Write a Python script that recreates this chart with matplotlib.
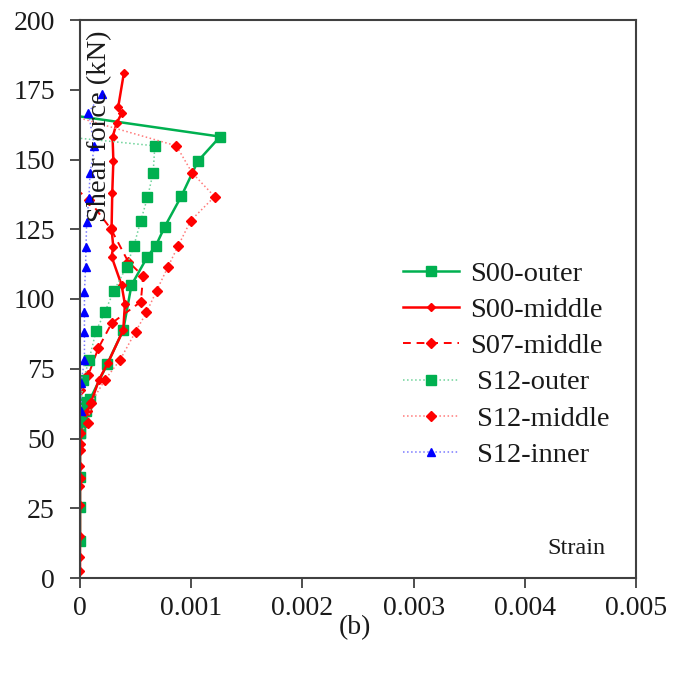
import matplotlib
matplotlib.use("Agg")
import matplotlib.pyplot as plt

plt.rcParams['font.family'] = ['Liberation Serif', 'DejaVu Serif']

# ---- data (strain, shear force kN) ----
s00_outer_x = [0, 0, 0, 0, 0.00002, 0.00005, 0.00009, 0.000245, 0.000389, 0.000463,
               0.000607, 0.000682, 0.000762, 0.000912, 0.00106, 0.00126, -0.00010]
s00_outer_y = [13.4, 25.6, 36.3, 52, 56, 60, 64, 76.7, 88.9, 105,
               115.2, 119.1, 125.9, 136.9, 149.4, 158.2, 166]

s00_middle_x = [0, 0, 0, 0, 0, 0, 0, 0.00002, 0.00007, 0.0001, 0.00017, 0.00025,
                0.000389, 0.000404, 0.000374, 0.000284, 0.000299, 0.000284, 0.00029,
                0.0003, 0.000293, 0.000329, 0.000374, 0.000344, 0.000395]
s00_middle_y = [2.5, 7.6, 15, 26, 33, 40, 46, 55, 60, 63, 71, 77,
                88.9, 98.1, 105, 115.2, 118.7, 125.3, 137.9,
                149.6, 158, 163, 166.5, 168.9, 181.1]

s07_middle_x = [0, 0, 0, 0.000075, 0.000164, 0.000284, 0.000547, 0.000568,
                0.000433, 0.00028, 0.00008, -0.00005]
s07_middle_y = [36, 46, 67.4, 72.8, 82.3, 91.3, 99, 108.2,
                113.4, 125, 135.5, 140]

s12_outer_x = [0, 0, 0.00001, 0.00003, 0.000081, 0.000144, 0.000224, 0.000305,
               0.000419, 0.000484, 0.000547, 0.000607, 0.000658, 0.000673, -0.00005]
s12_outer_y = [52, 56, 63, 71, 78.1, 88.5, 95.4, 102.9,
               111.6, 119, 128.1, 136.4, 145.3, 154.9, 157.8]

s12_middle_x = [0, 0, 0.00007, 0.0001, 0.000224, 0.000359, 0.0005, 0.000598,
                0.000688, 0.000792, 0.000882, 0.000996, 0.00121, 0.001007,
                0.000867, -0.00005]
s12_middle_y = [48, 52, 55.4, 62.8, 71, 78.1, 88.3, 95.2,
                102.9, 111.6, 119, 128.1, 136.7, 145.3,
                154.9, 165.4]

s12_inner_x = [0.00001, 0.00001, 0.00004, 0.00004, 0.00004, 0.00004, 0.00005,
               0.000054, 0.00006, 0.00008, 0.00009, 0.00013, 0.000075, 0.000194]
s12_inner_y = [60, 70, 78.1, 88.3, 95.4, 102.6, 111.3,
               118.7, 127.7, 136.2, 145, 154.7, 166.8, 173.5]

x_ticks = [0, 0.001, 0.002, 0.003, 0.004, 0.005]
x_tick_labels = ['0', '0.001', '0.002', '0.003', '0.004', '0.005']
y_ticks = [0, 25, 50, 75, 100, 125, 150, 175, 200]

GREEN = '#00B050'
RED = '#FF0000'
BLUE = '#0000FF'
TXT = '#1a1a1a'

fig = plt.figure(figsize=(6.73, 6.75), dpi=100)
ax = fig.add_axes([80/673, 1-578/675, (636-80)/673, (578-20)/675])

ax.plot(s00_outer_x, s00_outer_y, color=GREEN, lw=1.8, ls='-', marker='s',
        ms=6.5, label='S00-outer')
ax.plot(s00_middle_x, s00_middle_y, color=RED, lw=1.8, ls='-', marker='D',
        ms=3.8, label='S00-middle')
ax.plot(s07_middle_x, s07_middle_y, color=RED, lw=1.4, ls=(0, (4, 3)), marker='D',
        ms=5, label='S07-middle')
ax.plot(s12_outer_x, s12_outer_y, color='#6fd39a', lw=1.1, ls=':', marker='s',
        ms=6.5, mfc=GREEN, mec=GREEN, label=' S12-outer')
ax.plot(s12_middle_x, s12_middle_y, color='#ff7a7a', lw=1.1, ls=':', marker='D',
        ms=5, mfc=RED, mec=RED, label=' S12-middle')
ax.plot(s12_inner_x, s12_inner_y, color='#7a7aff', lw=1.1, ls=':', marker='^',
        ms=6, mfc=BLUE, mec=BLUE, label=' S12-inner')

ax.set_xlim(0, 0.005)
ax.set_ylim(0, 200)
ax.set_xticks(x_ticks)
ax.set_xticklabels(x_tick_labels)
ax.set_yticks(y_ticks)
ax.tick_params(axis='both', direction='out', length=7, width=1.3,
               color='#404040', labelsize=20, labelcolor=TXT)
ax.tick_params(axis='y', pad=11)
ax.tick_params(axis='x', pad=6)
for sp in ax.spines.values():
    sp.set_color('#404040')
    sp.set_linewidth(1.5)

fig.text(100/673, 1-126/675, 'Shear force (kN)', rotation=90, ha='center',
         va='center', fontsize=20.5, color=TXT)
fig.text(576/673, 1-549/675, 'Strain', ha='center', va='center', fontsize=17.5,
         color=TXT)
fig.text(355/673, 1-628/675, '(b)', ha='center', va='center', fontsize=20,
         color=TXT)

leg = ax.legend(loc='upper left', bbox_to_anchor=(403/673, 1-261/675),
                bbox_transform=fig.transFigure, frameon=False, fontsize=20.5,
                handlelength=1.95, handletextpad=0.42, labelspacing=0.36,
                borderaxespad=0, borderpad=0)
for t in leg.get_texts():
    t.set_color(TXT)

fig.savefig('out.png', dpi=100)
